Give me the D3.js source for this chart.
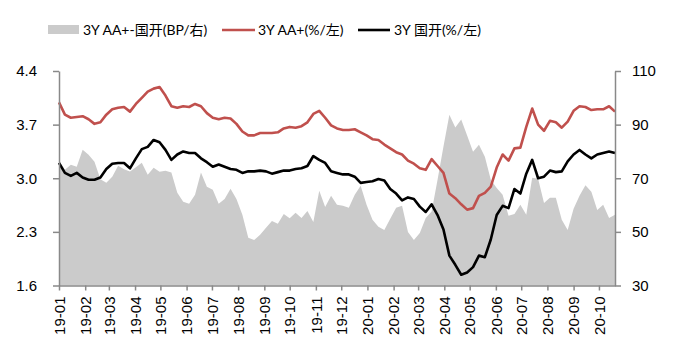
<!DOCTYPE html>
<html>
<head>
<meta charset="utf-8">
<script src="https://cdn.jsdelivr.net/npm/d3@7"></script>
<style>
  body { margin: 0; background: #fff; }
  svg { display: block; font-family: Lato, "Noto Sans CJK SC", sans-serif; }
</style>
</head>
<body>
<div id="chart"></div>
<script>
// 周度日期
const dates = [
  "2019-01-01","2019-01-08","2019-01-15","2019-01-22","2019-01-29","2019-02-05","2019-02-12","2019-02-19","2019-02-26",
  "2019-03-05","2019-03-12","2019-03-19","2019-03-26","2019-04-02","2019-04-09","2019-04-16","2019-04-23","2019-04-30",
  "2019-05-07","2019-05-14","2019-05-21","2019-05-28","2019-06-04","2019-06-11","2019-06-18","2019-06-25",
  "2019-07-02","2019-07-09","2019-07-16","2019-07-23","2019-07-30","2019-08-06","2019-08-13","2019-08-20","2019-08-27",
  "2019-09-03","2019-09-10","2019-09-17","2019-09-24","2019-10-01","2019-10-08","2019-10-15","2019-10-22","2019-10-29",
  "2019-11-05","2019-11-12","2019-11-19","2019-11-26","2019-12-03","2019-12-10","2019-12-17","2019-12-24","2019-12-31",
  "2020-01-07","2020-01-14","2020-01-21","2020-01-28","2020-02-04","2020-02-11","2020-02-18","2020-02-25",
  "2020-03-03","2020-03-10","2020-03-17","2020-03-24","2020-03-31","2020-04-07","2020-04-14","2020-04-21","2020-04-28",
  "2020-05-05","2020-05-12","2020-05-19","2020-05-26","2020-06-02","2020-06-09","2020-06-16","2020-06-23","2020-06-30",
  "2020-07-07","2020-07-14","2020-07-21","2020-07-28","2020-08-04","2020-08-11","2020-08-18","2020-08-25",
  "2020-09-01","2020-09-08","2020-09-15","2020-09-22","2020-09-29","2020-10-06","2020-10-13","2020-10-20"
];

// 3Y AA+ (%, 左轴)
const aaPlus = [
  3.99,3.83,3.79,3.80,3.81,3.77,3.71,3.73,3.83,3.90,3.92,3.93,3.87,3.97,4.05,4.13,4.17,4.19,
  4.08,3.94,3.92,3.94,3.93,3.97,3.94,3.85,3.79,3.77,3.79,3.78,3.71,3.61,3.56,3.56,3.59,3.59,
  3.59,3.60,3.65,3.67,3.66,3.68,3.73,3.84,3.88,3.79,3.69,3.65,3.63,3.63,3.64,3.60,3.56,
  3.51,3.50,3.44,3.39,3.34,3.31,3.23,3.19,3.13,3.11,3.25,3.16,3.07,2.80,2.74,2.66,2.59,2.61,
  2.77,2.81,2.89,3.14,3.31,3.23,3.39,3.40,3.67,3.91,3.70,3.62,3.75,3.73,3.66,3.74,3.88,3.94,
  3.93,3.89,3.90,3.90,3.94,3.87
];

// 3Y 国开 (%, 左轴)
const cdb = [
  3.20,3.07,3.03,3.07,3.01,2.98,2.98,3.01,3.12,3.19,3.20,3.20,3.13,3.26,3.38,3.41,3.50,3.47,
  3.37,3.24,3.31,3.35,3.33,3.33,3.26,3.21,3.15,3.18,3.15,3.12,3.11,3.07,3.09,3.09,3.10,3.09,
  3.06,3.08,3.10,3.10,3.12,3.13,3.16,3.29,3.24,3.20,3.09,3.07,3.05,3.05,3.02,2.94,2.95,
  2.96,2.99,2.97,2.86,2.80,2.71,2.75,2.73,2.63,2.56,2.66,2.52,2.33,1.99,1.87,1.74,1.77,1.84,
  1.99,1.97,2.20,2.52,2.64,2.61,2.86,2.80,3.06,3.24,3.00,3.02,3.10,3.08,3.09,3.22,3.31,3.37,
  3.31,3.26,3.31,3.33,3.35,3.33
];

// 3Y AA+-国开 (BP, 右轴)
const spread = [
  76.5,73.2,75.0,74.3,80.6,78.8,76.2,69.6,68.3,70.6,74.7,73.4,72.5,74.1,75.8,71.3,73.9,72.4,
  72.8,72.1,64.6,61.2,60.5,63.8,72.1,66.8,65.7,60.5,62.3,66.1,62.3,56.4,47.8,47.0,48.9,51.5,
  54.1,53.0,56.7,55.1,57.1,55.2,57.8,53.7,65.3,59.3,63.5,60.1,59.7,59.0,63.8,67.2,60.1,
  54.5,51.9,50.7,54.9,59.0,59.7,50.0,47.0,49.6,55.2,57.6,69.4,81.8,93.7,88.9,91.9,85.9,79.9,
  82.5,78.0,69.4,66.4,63.8,56.0,56.7,60.1,56.4,70.2,69.8,60.8,62.7,62.7,54.5,50.7,58.6,63.5,
  67.4,65.0,58.2,60.1,55.2,56.4
];

const leftTicks = [1.6, 2.3, 3.0, 3.7, 4.4];
const rightTicks = [30, 50, 70, 90, 110];
const legendLabels = ["3Y AA+-国开(BP/右)", "3Y AA+(%/左)", "3Y 国开(%/左)"];

const width = 679, height = 354;
const margin = { top: 71, right: 64, bottom: 68.5, left: 59 };
const axisColor = "#898989";

const parse = d3.timeParse("%Y-%m-%d");
const data = dates.map((d, i) => ({
  date: parse(d), aa: aaPlus[i], cdb: cdb[i], spread: spread[i]
}));

const svg = d3.select("#chart").append("svg")
  .attr("width", width)
  .attr("height", height);

const x = d3.scaleTime()
  .domain([parse("2019-01-01"), parse("2020-10-20")])
  .range([margin.left, width - margin.right]);

const yL = d3.scaleLinear()
  .domain([1.6, 4.4])
  .range([height - margin.bottom, margin.top]);

const yR = d3.scaleLinear()
  .domain([30, 110])
  .range([height - margin.bottom, margin.top]);

// 面积图（利差）
const area = d3.area()
  .x(d => x(d.date))
  .y0(yR(30))
  .y1(d => yR(d.spread));

svg.append("path")
  .datum(data)
  .attr("fill", "#cbcbcb")
  .attr("d", area);

// 折线
const lineAA = d3.line().x(d => x(d.date)).y(d => yL(d.aa));
const lineCdb = d3.line().x(d => x(d.date)).y(d => yL(d.cdb));

svg.append("path")
  .datum(data)
  .attr("fill", "none")
  .attr("stroke", "#c0504d")
  .attr("stroke-width", 2.6)
  .attr("stroke-linejoin", "round")
  .attr("d", lineAA);

svg.append("path")
  .datum(data)
  .attr("fill", "none")
  .attr("stroke", "#000")
  .attr("stroke-width", 2.6)
  .attr("stroke-linejoin", "round")
  .attr("d", lineCdb);

// 坐标轴
function styleAxis(g) {
  g.select(".domain").attr("stroke", axisColor).attr("stroke-width", 1.5);
  g.selectAll(".tick line").attr("stroke", axisColor).attr("stroke-width", 1.5);
  g.selectAll(".tick text").attr("fill", "#000").style("font-size", "15px");
}

svg.append("g")
  .attr("transform", `translate(${margin.left},0)`)
  .call(d3.axisLeft(yL).tickValues(leftTicks).tickFormat(d3.format(".1f")).tickSize(6).tickSizeOuter(0).tickPadding(16))
  .call(styleAxis);

svg.append("g")
  .attr("transform", `translate(${width - margin.right},0)`)
  .call(d3.axisRight(yR).tickValues(rightTicks).tickSize(6).tickSizeOuter(0).tickPadding(11))
  .call(styleAxis);

const monthTicks = d3.timeMonth.range(parse("2019-01-01"), parse("2020-10-02"));
const xAxis = svg.append("g")
  .attr("transform", `translate(0,${height - margin.bottom})`)
  .call(d3.axisBottom(x).tickValues(monthTicks).tickFormat(d3.timeFormat("%y-%m")).tickSize(5).tickSizeOuter(0))
  .call(styleAxis);

xAxis.selectAll(".tick text")
  .attr("transform", "rotate(-90)")
  .attr("text-anchor", "end")
  .attr("x", -11)
  .attr("y", 0)
  .attr("dy", "0.35em");

// 图例
const legend = svg.append("g").style("font-size", "14px");
const legendX = [48, 222, 358];

legend.append("rect")
  .attr("x", legendX[0]).attr("y", 25)
  .attr("width", 31).attr("height", 9)
  .attr("fill", "#cbcbcb");

legend.append("line")
  .attr("x1", legendX[1]).attr("x2", legendX[1] + 33)
  .attr("y1", 30).attr("y2", 30)
  .attr("stroke", "#c0504d").attr("stroke-width", 2.6);

legend.append("line")
  .attr("x1", legendX[2]).attr("x2", legendX[2] + 32)
  .attr("y1", 30).attr("y2", 30)
  .attr("stroke", "#000").attr("stroke-width", 2.6);

legend.selectAll("text")
  .data(legendLabels)
  .enter()
  .append("text")
  .attr("x", (d, i) => [83, 258, 394][i])
  .attr("y", 35)
  .attr("fill", "#000")
  .text(d => d);
</script>
</body>
</html>
